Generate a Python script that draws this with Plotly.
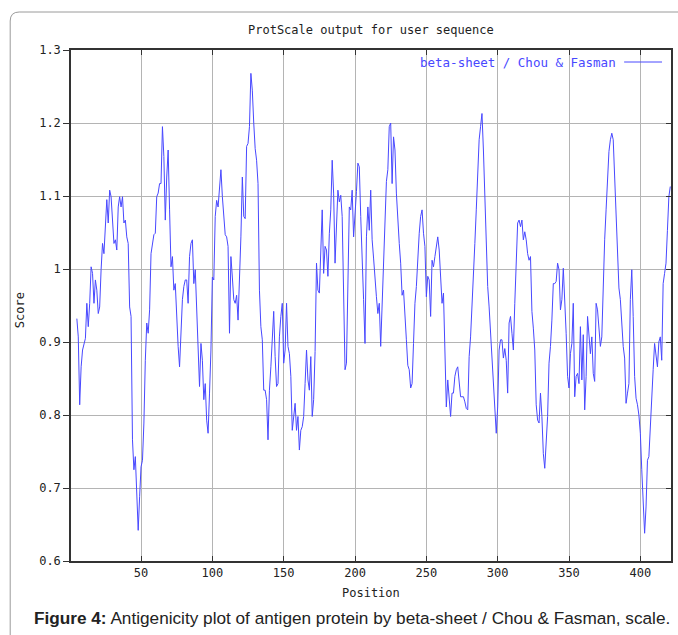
import plotly.graph_objects as go

# ---- data ----
start_position = 5
scores = [
    0.932, 0.907, 0.814, 0.866, 0.889, 0.898, 0.905, 0.953, 0.921, 0.953,
    1.003, 0.994, 0.953, 0.985, 0.971, 0.939, 0.948, 0.999, 1.035, 1.021,
    1.063, 1.095, 1.063, 1.108, 1.099, 1.063, 1.035, 1.040, 1.026, 1.085,
    1.099, 1.085, 1.099, 1.063, 1.067, 1.044, 1.035, 0.948, 0.935, 0.766,
    0.725, 0.743, 0.684, 0.642, 0.688, 0.729, 0.738, 0.789, 0.875, 0.926,
    0.912, 0.944, 1.021, 1.037, 1.047, 1.049, 1.099, 1.104, 1.117, 1.117,
    1.195, 1.154, 1.067, 1.126, 1.163, 1.081, 1.003, 1.017, 0.971, 0.980,
    0.930, 0.894, 0.866, 0.921, 0.958, 0.976, 0.985, 0.985, 0.953, 1.017,
    1.035, 1.040, 0.980, 0.999, 0.953, 0.898, 0.839, 0.898, 0.875, 0.821,
    0.843, 0.793, 0.775, 0.830, 0.889, 0.989, 0.985, 1.072, 1.094, 1.085,
    # 105
    1.108, 1.136, 1.099, 1.067, 1.047, 1.044, 1.031, 0.912, 1.017, 0.989,
    0.958, 0.953, 0.964, 0.930, 0.980, 1.044, 1.126, 1.072, 1.069, 1.168,
    1.172, 1.195, 1.268, 1.245, 1.200, 1.165, 1.149, 1.117, 0.971, 0.921,
    0.903, 0.834, 0.834, 0.821, 0.766, 0.834, 0.866, 0.916, 0.942, 0.880,
    0.839, 0.843, 0.907, 0.935, 0.953, 0.871, 0.889, 0.953, 0.894, 0.884,
    0.853, 0.779, 0.798, 0.816, 0.779, 0.798, 0.752, 0.779, 0.784, 0.798,
    0.843, 0.889, 0.848, 0.834, 0.880, 0.798, 0.821, 0.887, 1.008, 0.971,
    0.967, 1.044, 1.081, 0.994, 1.031, 1.026, 0.990, 1.049, 1.081, 1.149,
    1.104, 1.008, 1.063, 1.108, 1.092, 1.101, 1.072, 0.958, 0.862, 0.871,
    0.980, 1.085, 1.081, 1.108, 1.044, 1.072, 1.106, 1.145, 1.140, 1.072,
    1.026, 0.958, 0.898, 1.044,
    # 209
    1.085, 1.053, 1.108, 1.040, 1.015, 0.980, 0.962, 0.939, 0.953, 0.894,
    0.948, 0.989, 1.063, 1.120, 1.136, 1.195, 1.200, 1.117, 1.181, 1.163,
    1.104, 1.063, 1.035, 1.008, 0.964, 0.971, 0.926, 0.903, 0.868, 0.862,
    0.837, 0.843, 0.898, 0.953, 0.976, 1.021, 1.049, 1.072, 1.081, 1.049,
    1.031, 0.962, 0.990, 0.985, 0.935, 1.012, 1.003, 1.017, 1.031, 1.044,
    1.026, 0.985, 0.953, 0.967, 0.889, 0.811, 0.848, 0.821, 0.798, 0.830,
    0.830, 0.853, 0.862, 0.866, 0.848, 0.825, 0.825, 0.825, 0.818, 0.809,
    0.807, 0.880, 0.907, 0.958, 0.999, 1.035, 1.081, 1.126, 1.177, 1.195,
    1.213, 1.163, 1.099, 1.031, 0.976, 0.948, 0.912, 0.880, 0.848, 0.811,
    0.775, 0.811, 0.889, 0.903, 0.903, 0.878, 0.891, 0.875, 0.830, 0.926,
    0.935, 0.912, 0.889, 0.953, 1.008, 1.063,
    # 315
    1.067, 1.058, 1.067, 1.040, 1.051, 1.040, 1.021, 1.012, 1.017, 0.942,
    0.919, 0.889, 0.814, 0.793, 0.789, 0.830, 0.798, 0.747, 0.727, 0.761,
    0.798, 0.871, 0.894, 0.930, 0.980, 0.980, 0.983, 1.008, 0.999, 0.944,
    0.958, 1.001, 0.962, 0.912, 0.853, 0.837, 0.884, 0.898, 0.953, 0.825,
    0.853, 0.857, 0.843, 0.921, 0.848, 0.910, 0.807, 0.853, 0.935, 0.905,
    0.884, 0.907, 0.857, 0.846, 0.953, 0.944, 0.912, 0.894, 0.907, 0.985,
    1.040, 1.081, 1.122, 1.161, 1.177, 1.186, 1.177, 1.129, 1.090, 1.017,
    0.974, 0.958, 0.919, 0.894, 0.878, 0.816, 0.830, 0.843, 0.958, 0.999,
    0.935, 0.853, 0.823, 0.814, 0.800, 0.775, 0.725, 0.670, 0.638, 0.674,
    0.738, 0.743, 0.789, 0.821, 0.862, 0.898, 0.880, 0.866, 0.900, 0.907,
    0.875, 0.980, 0.994, 1.008, 1.053, 1.099, 1.113,
]
positions = list(range(start_position, start_position + len(scores)))

x_ticks = [50, 100, 150, 200, 250, 300, 350, 400]
y_ticks = [0.6, 0.7, 0.8, 0.9, 1.0, 1.1, 1.2, 1.3]
y_tick_labels = ["0.6", "0.7", "0.8", "0.9", "1", "1.1", "1.2", "1.3"]

title_text = "ProtScale output for user sequence"
series_name = "beta-sheet / Chou & Fasman"
x_title = "Position"
y_title = "Score"
caption = "<b>Figure 4:</b> Antigenicity plot of antigen protein by beta-sheet / Chou & Fasman, scale."

# ---- styling / layout ----
W, H = 678, 635
L, R, T, B = 71, 5, 50, 74
pw, ph = W - L - R, H - T - B

def px_x(px):
    return (px - L) / pw

def px_y(py):
    return (H - B - py) / ph

mono = "DejaVu Sans Mono"
line_blue = "rgb(72,72,255)"
grid = "#b4b4b4"
frame = "#333333"

fig = go.Figure()
fig.add_trace(go.Scatter(
    x=positions, y=scores, mode="lines", name=series_name,
    line=dict(color=line_blue, width=1), showlegend=False,
))
# invisible trace on the right-hand axis for inside ticks
fig.add_trace(go.Scatter(x=[positions[0]], y=[scores[0]], yaxis="y2",
                         mode="markers", marker=dict(opacity=0), showlegend=False,
                         hoverinfo="skip"))

xr = [0.9, 421.5]
yr = [0.6, 1.3]

fig.update_layout(
    width=W, height=H,
    margin=dict(l=L, r=R, t=T, b=B),
    paper_bgcolor="white", plot_bgcolor="white",
    font=dict(family=mono, size=12, color="#222222"),
    xaxis=dict(range=xr, tickvals=x_ticks, ticks="inside", ticklen=5,
               tickcolor=frame, showgrid=True, gridcolor=grid, gridwidth=1,
               showline=True, linecolor=frame, linewidth=1.5, mirror="ticks",
               zeroline=False, tickfont=dict(family=mono, size=12, color="#222")),
    yaxis=dict(range=yr, tickvals=y_ticks, ticktext=y_tick_labels,
               ticks="outside", ticklen=6, tickcolor=frame, showgrid=True,
               gridcolor=grid, gridwidth=1, showline=True, linecolor=frame,
               linewidth=1.5, mirror=True, zeroline=False,
               tickfont=dict(family=mono, size=12, color="#222")),
    yaxis2=dict(range=yr, tickvals=y_ticks, overlaying="y", side="right",
                ticks="inside", ticklen=5, tickcolor=frame, showticklabels=False,
                showgrid=False, zeroline=False, showline=False),
)

annotations = [
    dict(text=title_text, x=0.5, y=px_y(30), xref="paper", yref="paper",
         showarrow=False, xanchor="center", yanchor="middle",
         font=dict(family=mono, size=12, color="#222")),
    dict(text=x_title, x=0.5, y=px_y(593), xref="paper", yref="paper",
         showarrow=False, xanchor="center", yanchor="middle",
         font=dict(family=mono, size=12, color="#222")),
    dict(text=y_title, x=px_x(20), y=px_y(310), xref="paper", yref="paper",
         showarrow=False, xanchor="center", yanchor="middle", textangle=-90,
         font=dict(family=mono, size=12, color="#222")),
    dict(text=series_name, x=px_x(620), y=px_y(62), xref="paper", yref="paper",
         showarrow=False, xanchor="right", yanchor="middle",
         font=dict(family=mono, size=12.5, color=line_blue)),
    dict(text=caption, x=px_x(32), y=px_y(618), xref="paper", yref="paper",
         showarrow=False, xanchor="left", yanchor="middle",
         font=dict(family="Liberation Sans", size=17.2, color="#222")),
]
fig.update_layout(annotations=annotations)

# legend line sample
fig.add_shape(type="line", xref="paper", yref="paper",
              x0=px_x(626), x1=px_x(664), y0=px_y(62), y1=px_y(62),
              line=dict(color=line_blue, width=1))

# rounded border around whole figure
x0b, y0b = px_x(10), px_y(12)
x1b, y1b = px_x(700), px_y(660)
rx, ry = 9 / pw, 9 / ph
path = (f"M {x0b},{y1b} L {x0b},{y0b - ry} Q {x0b},{y0b} {x0b + rx},{y0b} "
        f"L {x1b},{y0b}")
fig.add_shape(type="path", xref="paper", yref="paper", path=path,
              line=dict(color="#9a9a9a", width=1))

fig.write_html(
    "out.html",
    config={"displayModeBar": False},
    post_script="document.body.style.margin='0';document.body.style.overflow='hidden';",
)
